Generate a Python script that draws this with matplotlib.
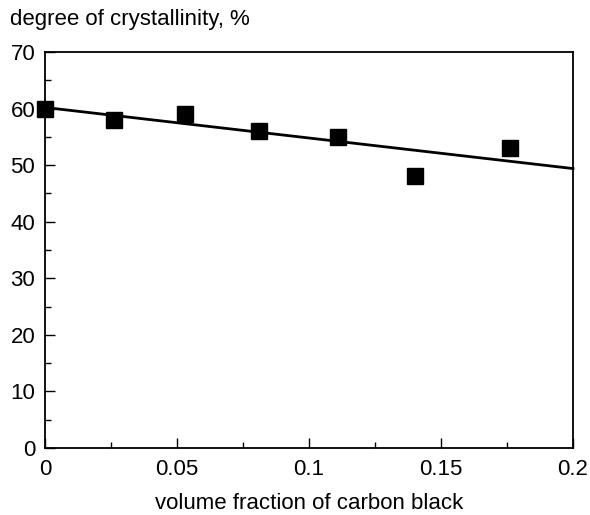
import matplotlib
matplotlib.use("Agg")
import matplotlib.pyplot as plt
from matplotlib.ticker import MultipleLocator

plt.rcParams['font.family'] = ['Liberation Sans', 'DejaVu Sans']

# crystallinity vs carbon black loading
volume_fraction = [0.0, 0.026, 0.053, 0.081, 0.111, 0.140, 0.176]
crystallinity = [60, 58, 59, 56, 55, 48, 53]

# linear fit drawn across the full range
fit_x = [0.0, 0.2]
fit_y = [60.2, 49.4]

fig = plt.figure(figsize=(5.9, 5.15), dpi=100)
ax = fig.add_axes([0.0763, 0.130, 0.8949, 0.769])

ax.plot(fit_x, fit_y, color='black', lw=2, clip_on=False)
ax.plot(volume_fraction, crystallinity, 's', color='black', ms=11, clip_on=False)

ax.set_xlim(0, 0.2)
ax.set_ylim(0, 70)
ax.xaxis.set_major_locator(MultipleLocator(0.05))
ax.xaxis.set_minor_locator(MultipleLocator(0.025))
ax.yaxis.set_major_locator(MultipleLocator(10))
ax.yaxis.set_minor_locator(MultipleLocator(5))
ax.set_xticks([0, 0.05, 0.1, 0.15, 0.2])
ax.set_xticklabels(['0', '0.05', '0.1', '0.15', '0.2'])

ax.tick_params(which='both', direction='in', top=False, right=False,
               labelsize=16, width=1)
ax.tick_params(which='major', length=7)
ax.tick_params(which='minor', length=4)
ax.tick_params(axis='x', pad=8)
ax.tick_params(axis='y', pad=7)
for s in ax.spines.values():
    s.set_linewidth(1.3)

ax.set_xlabel('volume fraction of carbon black', fontsize=16, labelpad=9)
fig.text(0.017, 0.962, 'degree of crystallinity, %', fontsize=16,
         ha='left', va='center')

fig.savefig('out.png', dpi=100)
